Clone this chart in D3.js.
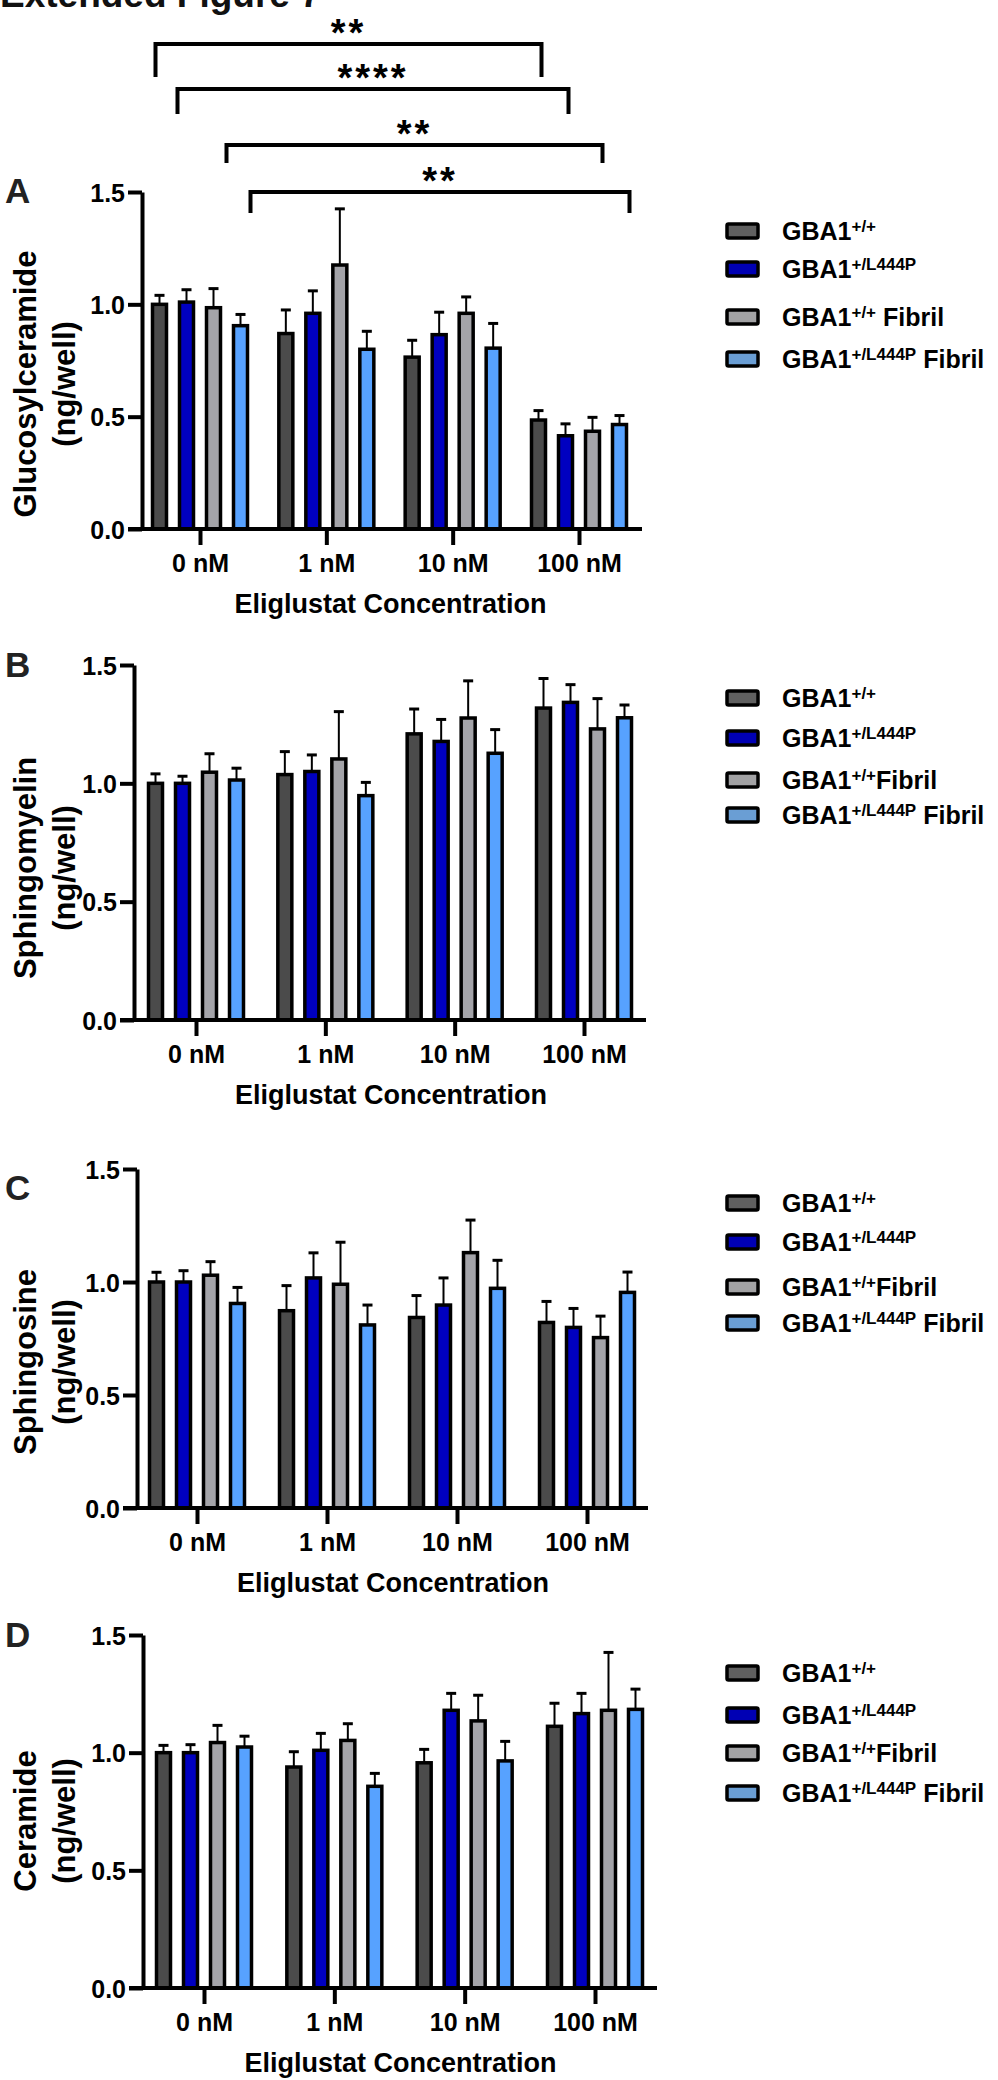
<!DOCTYPE html>
<html>
<head>
<meta charset="utf-8">
<script src="https://cdn.jsdelivr.net/npm/d3@7"></script>
<style>
body { margin: 0; background: #fff; }
svg { display: block; }
</style>
</head>
<body>
<script>
var W = 998, H = 2080;

// data
var groups = ["0 nM", "1 nM", "10 nM", "100 nM"];
var seriesSup = ["+/+", "+/L444P", "+/+", "+/L444P"];
var tailsA = ["", "", " Fibril", " Fibril"];
var tailsBCD = ["", "", "Fibril", " Fibril"];
var yTicks = [0, 0.5, 1.0, 1.5];

// means [group][series], sem [group][series]
var glcMean = [[1.00, 1.01, 0.985, 0.905], [0.87, 0.96, 1.175, 0.80], [0.765, 0.865, 0.96, 0.805], [0.485, 0.415, 0.435, 0.465]];
var glcSem  = [[0.04, 0.055, 0.085, 0.05], [0.105, 0.10, 0.25, 0.08], [0.075, 0.10, 0.073, 0.11], [0.042, 0.053, 0.062, 0.04]];
var smMean  = [[1.00, 1.00, 1.047, 1.014], [1.037, 1.05, 1.103, 0.948], [1.209, 1.177, 1.276, 1.127], [1.318, 1.342, 1.23, 1.277]];
var smSem   = [[0.04, 0.03, 0.078, 0.05], [0.097, 0.07, 0.20, 0.056], [0.105, 0.093, 0.157, 0.10], [0.125, 0.075, 0.128, 0.054]];
var sphMean = [[1.00, 1.00, 1.03, 0.905], [0.873, 1.018, 0.99, 0.81], [0.843, 0.898, 1.13, 0.972], [0.821, 0.799, 0.754, 0.954]];
var sphSem  = [[0.043, 0.05, 0.06, 0.071], [0.111, 0.111, 0.186, 0.088], [0.097, 0.12, 0.144, 0.124], [0.093, 0.084, 0.095, 0.09]];
var cerMean = [[1.00, 1.00, 1.043, 1.024], [0.939, 1.01, 1.052, 0.857], [0.957, 1.18, 1.135, 0.965], [1.112, 1.166, 1.18, 1.184]];
var cerSem  = [[0.031, 0.034, 0.073, 0.046], [0.065, 0.072, 0.071, 0.055], [0.057, 0.072, 0.109, 0.083], [0.098, 0.086, 0.246, 0.086]];

// significance brackets in panel A: series index compared 0 nM vs 100 nM
var sigSeries = [0, 1, 2, 3];
var sigLabels = ["**", "****", "**", "**"];

// styles
var barColors = ["#4b4b4b", "#0000c0", "#a4a4a9", "#57a2ff"];
var legendColors = ["#606060", "#0000b4", "#a2a2a4", "#6a9ed4"];
var sans = "'Liberation Sans', Arial, sans-serif";

var panels = [
  {letter: "A", ly: 203, title: "Glucosylceramide", mean: glcMean, sem: glcSem, tails: tailsA,
   axisX: 142, g0: 200, g3: 579, xEnd: 642, yTop: 192, yBot: 529, ytc: 384, legY: [231, 269, 317, 359]},
  {letter: "B", ly: 677, title: "Sphingomyelin", mean: smMean, sem: smSem, tails: tailsBCD,
   axisX: 134, g0: 196, g3: 584, xEnd: 646, yTop: 665, yBot: 1020, ytc: 868, legY: [698, 738, 780, 815]},
  {letter: "C", ly: 1200, title: "Sphingosine", mean: sphMean, sem: sphSem, tails: tailsBCD,
   axisX: 137, g0: 197, g3: 587, xEnd: 648, yTop: 1169, yBot: 1508, ytc: 1362, legY: [1203, 1242, 1287, 1323]},
  {letter: "D", ly: 1647, title: "Ceramide", mean: cerMean, sem: cerSem, tails: tailsBCD,
   axisX: 143, g0: 204, g3: 595, xEnd: 657, yTop: 1635, yBot: 1988, ytc: 1821, legY: [1673, 1715, 1753, 1793]}
];

var svg = d3.select("body").append("svg")
  .attr("width", W).attr("height", H)
  .style("background", "#fff");

// figure title, cropped at the top edge like the source image
svg.append("text")
  .attr("x", 0).attr("y", 7)
  .attr("font-family", sans).attr("font-weight", "bold").attr("font-size", 37)
  .attr("fill", "#111")
  .text("Extended Figure 7");

var inner = d3.scaleBand().domain(d3.range(4)).range([-54, 54]).paddingInner(0.48).paddingOuter(0.24);

panels.forEach(function (p, pi) {
  var g = svg.append("g");
  var x = d3.scalePoint().domain(groups).range([p.g0, p.g3]);
  var y = d3.scaleLinear().domain([0, 1.5]).range([p.yBot, p.yTop]);
  var bw = 14;

  // panel letter
  g.append("text").attr("x", 5).attr("y", p.ly)
    .attr("font-family", sans).attr("font-weight", "bold").attr("font-size", 35)
    .attr("fill", "#222").text(p.letter);

  // y title
  var yt = g.append("text")
    .attr("transform", "translate(0," + p.ytc + ") rotate(-90)")
    .attr("text-anchor", "middle")
    .attr("font-family", sans).attr("font-weight", "bold").attr("font-size", 31);
  yt.append("tspan").attr("x", 0).attr("y", 36).text(p.title);
  yt.append("tspan").attr("x", 0).attr("y", 75).text("(ng/well)");

  // bars
  var cells = [];
  groups.forEach(function (gr, gi) {
    p.mean[gi].forEach(function (m, si) {
      cells.push({group: gr, s: si, mean: m, sem: p.sem[gi][si]});
    });
  });

  var cx = function (d) { return x(d.group) + inner(d.s) + inner.bandwidth() / 2; };

  g.selectAll(".bar").data(cells).enter().append("rect")
    .attr("x", function (d) { return cx(d) - bw / 2; })
    .attr("y", function (d) { return y(d.mean); })
    .attr("width", bw)
    .attr("height", function (d) { return y(0) - y(d.mean); })
    .attr("fill", function (d) { return barColors[d.s]; })
    .attr("stroke", "#000").attr("stroke-width", 3.5);

  // error bars (upper only)
  g.selectAll(".err").data(cells).enter().append("line")
    .attr("x1", cx).attr("x2", cx)
    .attr("y1", function (d) { return y(d.mean); })
    .attr("y2", function (d) { return y(d.mean + d.sem); })
    .attr("stroke", "#000").attr("stroke-width", 2);
  g.selectAll(".cap").data(cells).enter().append("line")
    .attr("x1", function (d) { return cx(d) - 5; })
    .attr("x2", function (d) { return cx(d) + 5; })
    .attr("y1", function (d) { return y(d.mean + d.sem); })
    .attr("y2", function (d) { return y(d.mean + d.sem); })
    .attr("stroke", "#000").attr("stroke-width", 3);

  // y axis
  var ya = g.append("g").attr("transform", "translate(" + p.axisX + ",0)")
    .call(d3.axisLeft(y).tickValues(yTicks).tickFormat(d3.format(".1f")).tickSize(14).tickSizeOuter(0).tickPadding(3));
  ya.select(".domain").attr("stroke-width", 4);
  ya.selectAll(".tick line").attr("stroke-width", 4);
  ya.selectAll(".tick text").attr("font-family", sans).attr("font-weight", "bold")
    .attr("font-size", 25).attr("fill", "#000").attr("dy", "0.36em");

  // x axis
  var xa = g.append("g").attr("transform", "translate(0," + p.yBot + ")")
    .call(d3.axisBottom(x).tickSize(16).tickSizeOuter(0).tickPadding(9));
  xa.select(".domain").remove();
  xa.selectAll(".tick line").attr("stroke-width", 4);
  xa.selectAll(".tick text").attr("font-family", sans).attr("font-weight", "bold")
    .attr("font-size", 25).attr("fill", "#000");
  g.append("line").attr("x1", p.axisX - 14).attr("x2", p.xEnd)
    .attr("y1", p.yBot).attr("y2", p.yBot)
    .attr("stroke", "#000").attr("stroke-width", 4);

  g.append("text")
    .attr("x", (p.g0 + p.g3) / 2 + 1).attr("y", p.yBot + 84)
    .attr("text-anchor", "middle")
    .attr("font-family", sans).attr("font-weight", "bold").attr("font-size", 27)
    .text("Eliglustat Concentration");

  // legend
  var lg = g.selectAll(".leg").data(seriesSup).enter().append("g")
    .attr("transform", function (d, i) { return "translate(727," + p.legY[i] + ")"; });
  lg.append("rect").attr("x", 0).attr("y", -7).attr("width", 31).attr("height", 14)
    .attr("rx", 1.5)
    .attr("fill", function (d, i) { return legendColors[i]; })
    .attr("stroke", "#000").attr("stroke-width", 3.5);
  var lt = lg.append("text").attr("x", 55).attr("y", 9)
    .attr("font-family", sans).attr("font-weight", "bold").attr("font-size", 25);
  lt.append("tspan").text("GBA1");
  lt.append("tspan").attr("dy", -8).attr("font-size", 17).text(function (d) { return d; });
  lt.append("tspan").attr("dy", 8).text(function (d, i) { return p.tails[i]; });

  // significance brackets (panel A only)
  if (pi === 0) {
    var bY = [44, 89, 145, 192];
    var bLeg = [77, 114, 163, 213];
    var bOff = [[-4, 3], [-9, 3], [13, 10], [10, 10]];
    sigSeries.forEach(function (s, k) {
      var xl = x(groups[0]) + inner(s) + inner.bandwidth() / 2 + bOff[k][0];
      var xr = x(groups[3]) + inner(s) + inner.bandwidth() / 2 + bOff[k][1];
      g.append("path")
        .attr("d", d3.line()([[xl, bLeg[k]], [xl, bY[k]], [xr, bY[k]], [xr, bLeg[k]]]))
        .attr("fill", "none").attr("stroke", "#000").attr("stroke-width", 4);
      g.append("text").attr("x", (xl + xr) / 2).attr("y", bY[k] + 2)
        .attr("text-anchor", "middle")
        .attr("font-family", sans).attr("font-weight", "bold").attr("font-size", 38)
        .attr("letter-spacing", 3)
        .text(sigLabels[k]);
    });
  }
});
</script>
</body>
</html>
